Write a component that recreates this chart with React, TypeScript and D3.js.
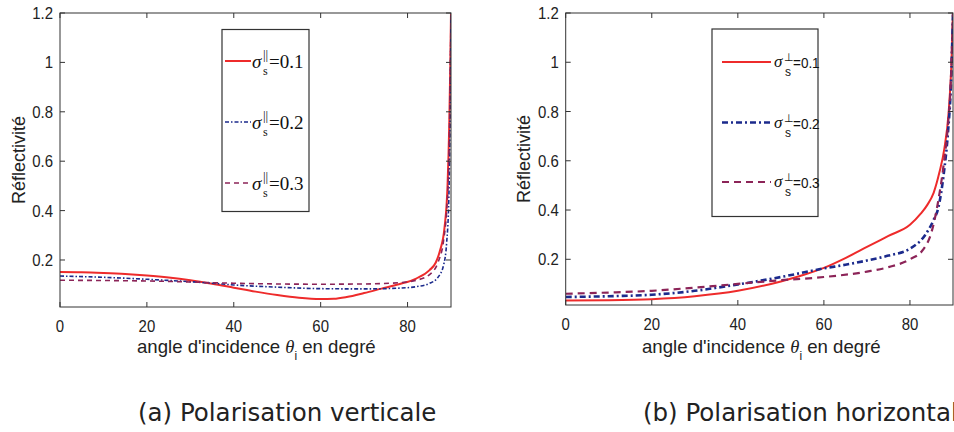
import React from "react";
import * as d3 from "d3";

// ---------- data ----------
const X_TICKS = [0, 20, 40, 60, 80];
const Y_TICKS = [0.2, 0.4, 0.6, 0.8, 1, 1.2];
const Y_TICK_LABELS = ["0.2", "0.4", "0.6", "0.8", "1", "1.2"];
const SIGMAS = ["0.1", "0.2", "0.3"];

// (a) vertical polarisation: [angle, reflectivity]
const V_S01: [number, number][] = [
  [0, 0.151], [5, 0.15], [10, 0.147], [15, 0.143], [20, 0.137], [25, 0.129], [30, 0.118],
  [35, 0.104], [40, 0.088], [45, 0.072], [50, 0.058], [55, 0.047], [60, 0.042], [63, 0.043],
  [66, 0.05], [70, 0.066], [74, 0.084], [78, 0.102], [82, 0.125], [85, 0.158], [86.5, 0.19],
  [87.5, 0.24], [88.5, 0.33], [89.2, 0.5], [89.6, 0.75], [89.85, 1.0], [90, 1.2],
];
const V_S02: [number, number][] = [
  [0, 0.135], [10, 0.13], [20, 0.122], [30, 0.112], [35, 0.106], [40, 0.099], [50, 0.09],
  [60, 0.084], [70, 0.083], [78, 0.086], [82, 0.092], [85, 0.105], [87, 0.13], [88.3, 0.18],
  [89, 0.27], [89.5, 0.45], [89.8, 0.8], [90, 1.2],
];
const V_S03: [number, number][] = [
  [0, 0.118], [10, 0.117], [20, 0.115], [30, 0.111], [35, 0.108], [40, 0.106], [50, 0.103],
  [60, 0.102], [70, 0.103], [78, 0.108], [82, 0.118], [85, 0.14], [87, 0.19], [88.3, 0.28],
  [89, 0.4], [89.5, 0.6], [89.8, 0.9], [90, 1.2],
];

// (b) horizontal polarisation
const H_S01: [number, number][] = [
  [0, 0.033], [10, 0.034], [20, 0.038], [30, 0.05], [40, 0.072], [50, 0.11], [55, 0.135],
  [60, 0.165], [65, 0.205], [70, 0.25], [75, 0.295], [80, 0.34], [82.5, 0.385], [84, 0.42],
  [85.5, 0.47], [86.8, 0.55], [88, 0.65], [89, 0.8], [89.6, 0.98], [90, 1.2],
];
const H_S02: [number, number][] = [
  [0, 0.047], [10, 0.05], [20, 0.056], [30, 0.072], [40, 0.098], [50, 0.128], [60, 0.163],
  [65, 0.178], [70, 0.195], [75, 0.215], [80, 0.243], [83.5, 0.298], [85.5, 0.36],
  [86.6, 0.41], [87.8, 0.54], [88.9, 0.73], [89.5, 0.9], [90, 1.2],
];
const H_S03: [number, number][] = [
  [0, 0.06], [10, 0.065], [20, 0.072], [30, 0.085], [40, 0.1], [50, 0.115], [60, 0.128],
  [70, 0.15], [75, 0.168], [80, 0.2], [83, 0.238], [85, 0.31], [86.6, 0.44], [87.8, 0.58],
  [88.9, 0.76], [89.5, 0.92], [90, 1.2],
];

// ---------- styles ----------
const RED = "#ee2b2b";
const BLUE = "#1b2a8c";
const PURPLE = "#8c2458";
const AXIS = "#333";

type Panel = {
  id: string;
  left: number; right: number; top: number; bottom: number;
  yMin: number;
  series: { data: [number, number][]; color: string; width: number; dash?: string }[];
  legend: { x0: number; x1: number; y0: number; y1: number; rows: number[]; lineX0: number; lineX1: number };
  sup: string;
  legendSerif: boolean;
  yLabelX: number;
  xLabelX: number;
  caption: string;
  captionX: number;
};

const PANELS: Panel[] = [
  {
    id: "a",
    left: 60, right: 451, top: 13, bottom: 307, yMin: 0.0097,
    series: [
      { data: V_S01, color: RED, width: 2 },
      { data: V_S02, color: BLUE, width: 1.6, dash: "4 2 1.5 2" },
      { data: V_S03, color: PURPLE, width: 1.6, dash: "5 4" },
    ],
    legend: { x0: 222, x1: 309, y0: 29.5, y1: 211.5, rows: [61, 122, 183], lineX0: 225, lineX1: 251 },
    sup: "||",
    legendSerif: true,
    yLabelX: 25,
    xLabelX: 137,
    caption: "(a) Polarisation verticale",
    captionX: 138,
  },
  {
    id: "b",
    left: 565.7, right: 953, top: 13, bottom: 305, yMin: 0.0144,
    series: [
      { data: H_S01, color: RED, width: 2 },
      { data: H_S02, color: BLUE, width: 2.6, dash: "6 3 2 3" },
      { data: H_S03, color: PURPLE, width: 2.2, dash: "7 5" },
    ],
    legend: { x0: 712, x1: 818, y0: 29, y1: 216.5, rows: [62, 122.5, 182], lineX0: 722, lineX1: 771 },
    sup: "⊥",
    legendSerif: false,
    yLabelX: 530,
    xLabelX: 642,
    caption: "(b) Polarisation horizontale",
    captionX: 643,
  },
];

const SANS = "'Liberation Sans', Arial, sans-serif";
const SERIF = "'Liberation Serif', 'Times New Roman', serif";

function PanelView({ p }: { p: Panel }) {
  const x = d3.scaleLinear().domain([0, 90]).range([p.left, p.right]);
  const y = d3.scaleLinear().domain([p.yMin, 1.2]).range([p.bottom, p.top]);
  const line = d3
    .line<[number, number]>()
    .x((d) => x(d[0]))
    .y((d) => y(d[1]))
    .curve(d3.curveMonotoneX);
  const clipId = `clip-${p.id}`;
  const tl = 5;
  const L = p.legend;
  return (
    <g>
      <defs>
        <clipPath id={clipId}>
          <rect x={p.left} y={p.top} width={p.right - p.left} height={p.bottom - p.top} />
        </clipPath>
      </defs>
      {/* series */}
      <g clipPath={`url(#${clipId})`}>
        {p.series.map((s, i) => (
          <path
            key={i}
            d={line(s.data) || ""}
            fill="none"
            stroke={s.color}
            strokeWidth={s.width}
            strokeDasharray={s.dash}
          />
        ))}
      </g>
      {/* frame */}
      <rect
        x={p.left}
        y={p.top}
        width={p.right - p.left}
        height={p.bottom - p.top}
        fill="none"
        stroke={AXIS}
        strokeWidth={1}
      />
      {/* x ticks */}
      {X_TICKS.map((t) => (
        <g key={`xt${t}`}>
          <line x1={x(t)} x2={x(t)} y1={p.bottom} y2={p.bottom - tl} stroke={AXIS} />
          <line x1={x(t)} x2={x(t)} y1={p.top} y2={p.top + tl} stroke={AXIS} />
          <text
            transform={`translate(${x(t)},${p.bottom + 25}) scale(0.88,1)`}
            textAnchor="middle"
            fontFamily={SANS}
            fontSize={17}
            fill="#222"
          >
            {t}
          </text>
        </g>
      ))}
      {/* y ticks */}
      {Y_TICKS.map((t, i) => (
        <g key={`yt${t}`}>
          <line x1={p.left} x2={p.left + tl} y1={y(t)} y2={y(t)} stroke={AXIS} />
          <line x1={p.right} x2={p.right - tl} y1={y(t)} y2={y(t)} stroke={AXIS} />
          <text
            transform={`translate(${p.left - 7},${y(t) + 6}) scale(0.88,1)`}
            textAnchor="end"
            fontFamily={SANS}
            fontSize={17}
            fill="#222"
          >
            {Y_TICK_LABELS[i]}
          </text>
        </g>
      ))}
      {/* y label */}
      <text
        transform={`translate(${p.yLabelX},${(p.top + p.bottom) / 2}) rotate(-90)`}
        textAnchor="middle"
        fontFamily={SANS}
        fontSize={18}
        fill="#222"
      >
        Réflectivité
      </text>
      {/* x label */}
      <text x={p.xLabelX} y={353} fontFamily={SANS} fontSize={18.6} fill="#222">
        angle d'incidence{" "}
        <tspan fontFamily={SERIF} fontStyle="italic">θ</tspan>
        <tspan fontSize={12} dy={7}>i</tspan>
        <tspan dy={-7}> en degré</tspan>
      </text>
      {/* legend */}
      <rect x={L.x0} y={L.y0} width={L.x1 - L.x0} height={L.y1 - L.y0} fill="#fff" stroke={AXIS} strokeWidth={1.2} />
      {p.series.map((s, i) => {
        const ry = L.rows[i];
        const tx = L.lineX1 + 1;
        return (
          <g key={`lg${i}`}>
            <line
              x1={L.lineX0}
              x2={L.lineX1}
              y1={ry}
              y2={ry}
              stroke={s.color}
              strokeWidth={s.width}
              strokeDasharray={s.dash}
            />
            {p.legendSerif ? (
              <>
                <text x={tx} y={ry + 7} fontFamily={SERIF} fontStyle="italic" fontSize={19} fill="#111">σ</text>
                <text x={tx + 11} y={ry - 2} fontFamily={SERIF} fontSize={13} fill="#111">{p.sup}</text>
                <text x={tx + 11} y={ry + 14} fontFamily={SERIF} fontSize={12} fill="#111">s</text>
                <text x={tx + 17} y={ry + 7} fontFamily={SERIF} fontSize={19} fill="#111">={SIGMAS[i]}</text>
              </>
            ) : (
              <>
                <text x={tx + 2} y={ry + 5} fontFamily={SERIF} fontStyle="italic" fontSize={17} fill="#111">σ</text>
                <text x={tx + 12} y={ry - 1} fontFamily={SANS} fontSize={11} fill="#111">{p.sup}</text>
                <text x={tx + 13} y={ry + 14} fontFamily={SANS} fontSize={12} fill="#111">s</text>
                <text
                  transform={`translate(${tx + 21},${ry + 6}) scale(0.9,1)`}
                  fontFamily={SANS}
                  fontSize={15}
                  fill="#111"
                >
                  ={SIGMAS[i]}
                </text>
              </>
            )}
          </g>
        );
      })}
      {/* caption */}
      <text x={p.captionX} y={421} fontFamily="'DejaVu Sans', Verdana, sans-serif" fontSize={24.5} fill="#222">
        {p.caption}
      </text>
    </g>
  );
}

export default function App() {
  return (
    <svg
      width={954}
      height={432}
      style={{ position: "absolute", left: 0, top: 0, background: "#fff" }}
    >
      <rect x={0} y={0} width={954} height={432} fill="#fff" />
      {PANELS.map((p) => (
        <PanelView key={p.id} p={p} />
      ))}
    </svg>
  );
}
